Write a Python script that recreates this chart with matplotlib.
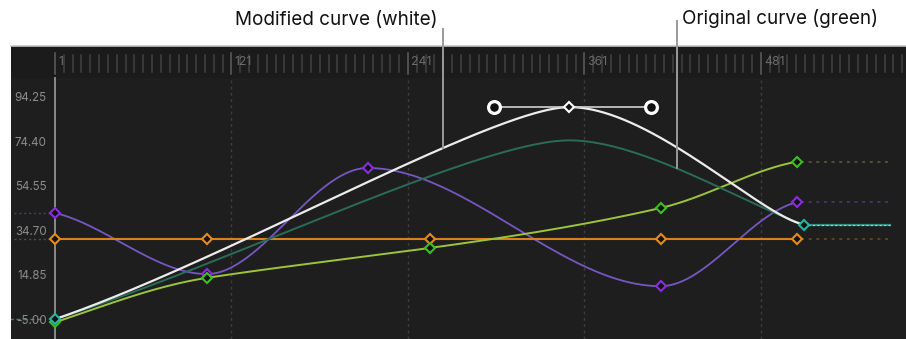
import numpy as np
import matplotlib.pyplot as plt

plt.rcParams['font.family'] = ['Inter', 'DejaVu Sans']

# Keyframes (frame, value)
key_frames = [1, 104.3, 255.7, 412.8, 505.3]
purple_frames = [1, 104.3, 213.6, 412.8, 505.3]
purple_vals = [43.1, 15.9, 63.1, 10.5, 47.8]
purple_slopes = [-0.155, 0.0, 0.0, 0.0, 0.15]

lime_vals = [-5.6, 14.2, 27.5, 45.3, 65.9]
lime_slopes = [0.22, 0.10, 0.09, 0.15, 0.12]

orange_val = 31.4

# original (green) curve: keyframes and bezier handles
orig_frames = [1, 350.7, 510.2]
orig_vals = [-4.2, 75.4, 37.9]
orig_out_handles = [(117.6, 20.0), (400.0, 75.4)]
orig_in_handles = [(290.0, 75.4), (470.0, 47.0)]

# modified (white) curve: keyframes and bezier handles
mod_frames = [1, 350.7, 510.2]
mod_vals = [-4.2, 90.2, 37.9]
mod_out_handles = [(117.6, 22.0), (406.0, 90.2)]
mod_in_handles = [(299.7, 90.2), (480.0, 42.0)]

y_ticks = [94.25, 74.40, 54.55, 34.70, 14.85, -5.00]
ruler_labels = [1, 121, 241, 361, 481]
end_frame = 568.7
pre_frame = -27


def hermite(fr, val, slope, n=100):
    xs, ys = [], []
    t = np.linspace(0, 1, n)
    h00 = 2 * t**3 - 3 * t**2 + 1
    h10 = t**3 - 2 * t**2 + t
    h01 = -2 * t**3 + 3 * t**2
    h11 = t**3 - t**2
    for i in range(len(fr) - 1):
        h = fr[i + 1] - fr[i]
        xs.append(fr[i] + t * h)
        ys.append(h00 * val[i] + h10 * h * slope[i] + h01 * val[i + 1] + h11 * h * slope[i + 1])
    return np.concatenate(xs), np.concatenate(ys)


def bezier(fr, val, outs, ins, n=200):
    xs, ys = [], []
    t = np.linspace(0, 1, n)
    for i in range(len(fr) - 1):
        p0 = np.array([fr[i], val[i]])
        p1 = np.array(outs[i])
        p2 = np.array(ins[i])
        p3 = np.array([fr[i + 1], val[i + 1]])
        b = ((1 - t)**3)[:, None] * p0 + (3 * (1 - t)**2 * t)[:, None] * p1 \
            + (3 * (1 - t) * t**2)[:, None] * p2 + (t**3)[:, None] * p3
        xs.append(b[:, 0])
        ys.append(b[:, 1])
    return np.concatenate(xs), np.concatenate(ys)


fig = plt.figure(figsize=(9.06, 3.39), dpi=100)
ax = fig.add_axes([11 / 906, 0, 895 / 906, 293 / 339])
ax.set_facecolor('#1e1e1e')
ax.set_xlim(-28.92, 579.6)
ax.set_ylim(-13.01, 117.39)
ax.set_xticks([])
ax.set_yticks([])
for s in ['left', 'right', 'bottom']:
    ax.spines[s].set_visible(False)
ax.spines['top'].set_color('#c4c4c4')
ax.spines['top'].set_linewidth(1.2)

bx = ax.get_xaxis_transform()

# ruler
ax.axhspan(103.6, 117.39, color='#1b1b1b', zorder=0)
for f in np.arange(1, end_frame + 20, 6):
    if (f - 1) % 120 == 0:
        ax.plot([f, f], [0.905, 0.975], color='#5e5e5e', lw=1.1, transform=bx)
    else:
        ax.plot([f, f], [0.912, 0.968], color='#414141', lw=1.1, transform=bx)
for lab in ruler_labels:
    ax.text(lab + 2.0, 0.945, str(lab), color='#6c6c6c', fontsize=8.8,
            va='center', ha='left', transform=bx)

# grid + playhead
for lab in ruler_labels[1:]:
    ax.plot([lab, lab], [-13.01, 103.6], color='#3d3d3d', lw=1.0,
            linestyle=(0, (2, 2.5)), zorder=1)
ax.plot([1, 1], [-13.01, 103.0], color='#8a8a8a', lw=1.4, zorder=2)

for v in y_ticks:
    ax.text(-4.6, v, f'{v:.2f}', color='#8c8c8c', fontsize=8.4, ha='right', va='center')

# extrapolation lines
ax.plot([pre_frame, 1], [purple_vals[0]] * 2, color='#4a3d6e', lw=1, linestyle=(0, (1.5, 2)))
ax.plot([pre_frame, 1], [orange_val] * 2, color='#6b4a26', lw=1, linestyle=(0, (1.5, 2)))
ax.plot([-30, -8], [orig_vals[0]] * 2, color='#3a8a7c', lw=1, linestyle=(0, (3, 2)))
ax.plot([key_frames[-1] + 3, end_frame], [lime_vals[-1]] * 2, color='#52652e', lw=1.1,
        linestyle=(0, (2, 3)))
ax.plot([purple_frames[-1] + 3, end_frame], [purple_vals[-1]] * 2, color='#4a3d6e', lw=1.1,
        linestyle=(0, (2, 3)))
ax.plot([key_frames[-1] + 3, end_frame], [orange_val] * 2, color='#6b4a26', lw=1.1,
        linestyle=(0, (2, 3)))
ax.plot([mod_frames[-1] + 3, end_frame], [mod_vals[-1]] * 2, color='#2f8f80', lw=1.6)
ax.plot([mod_frames[-1] + 3, end_frame], [mod_vals[-1]] * 2, color='#9fd8cf', lw=0.8,
        linestyle=(0, (2, 2)))

# curves
px, py = hermite(purple_frames, purple_vals, purple_slopes)
ax.plot(px, py, color='#7657c2', lw=1.3, zorder=3)
ax.plot([key_frames[0], key_frames[-1]], [orange_val] * 2, color='#d9801f', lw=1.5, zorder=3)
lx, ly = hermite(key_frames, lime_vals, lime_slopes)
ax.plot(lx, ly, color='#9dc43a', lw=1.4, zorder=3)
ox, oy = bezier(orig_frames, orig_vals, orig_out_handles, orig_in_handles)
ax.plot(ox, oy, color='#2b6b5a', lw=1.4, zorder=3)
wx, wy = bezier(mod_frames, mod_vals, mod_out_handles, mod_in_handles)
ax.plot(wx, wy, color='#ececec', lw=1.6, zorder=4)

# keyframe markers
mk = dict(marker='D', ms=5, mew=1.5, mfc='#111111', linestyle='none', zorder=6)
ax.plot(purple_frames, purple_vals, mec='#8a2be2', **mk)
ax.plot(key_frames, [orange_val] * len(key_frames), mec='#e68a1a', **mk)
ax.plot(key_frames, lime_vals, mec='#3cc01e', **mk)
ax.plot([mod_frames[0], mod_frames[-1]], [mod_vals[0], mod_vals[-1]], mec='#22b8a6', **mk)
ax.plot([mod_frames[1]], [mod_vals[1]], mec='#ffffff', **mk)

# bezier handles on peak
hx = [mod_in_handles[0][0], mod_out_handles[1][0]]
hy = [mod_in_handles[0][1], mod_out_handles[1][1]]
ax.plot(hx, hy, color='#d0d0d0', lw=1.2, zorder=5)
ax.plot(hx, hy, marker='o', ms=8.5, mew=2.3, mfc='#111111', mec='#ffffff',
        linestyle='none', zorder=7)

# callouts
mod_x = 264.6
orig_x = 423.7
ax.plot([mod_x, mod_x], [np.interp(mod_x, wx, wy), 124.96], color='#9a9a9a', lw=1.4,
        clip_on=False, zorder=8)
ax.plot([orig_x, orig_x], [np.interp(orig_x, ox, oy), 128.5], color='#9a9a9a', lw=1.4,
        clip_on=False, zorder=8)
fig.text(438 / 906, 1 - 20 / 339, 'Modified curve (white)', fontsize=13.6, color='#111111',
         ha='right', va='center')
fig.text(682 / 906, 1 - 19 / 339, 'Original curve (green)', fontsize=13.6, color='#111111',
         ha='left', va='center')

fig.savefig('out.png', dpi=100, facecolor='white')
